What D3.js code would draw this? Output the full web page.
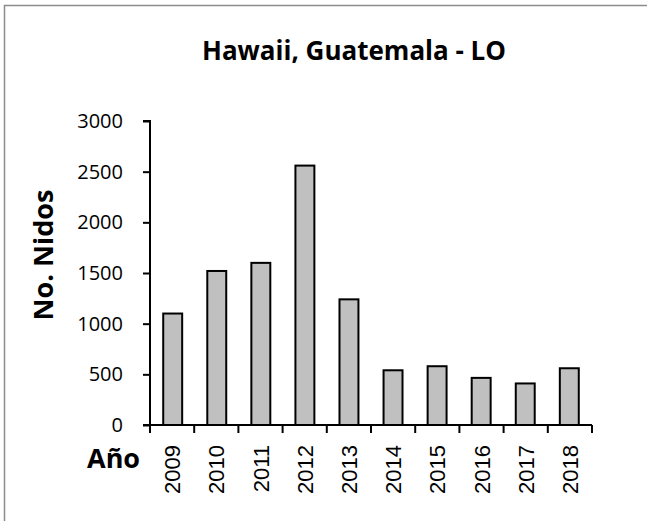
<!DOCTYPE html>
<html>
<head>
<meta charset="utf-8">
<script src="https://cdn.jsdelivr.net/npm/d3@7"></script>
<style>
  html, body { margin: 0; padding: 0; overflow: hidden; background: #fff; }
  svg { display: block; }
</style>
</head>
<body>
<div id="canvas"></div>
<script>
"use strict"

// data
let years = ["2009", "2010", "2011", "2012", "2013", "2014", "2015", "2016", "2017", "2018"];
let nests = [1100, 1520, 1600, 2560, 1240, 540, 580, 465, 410, 560];
let yTicks = [0, 500, 1000, 1500, 2000, 2500, 3000];

let titleText = "Hawaii, Guatemala - LO";
let yTitle = "No. Nidos";
let xTitle = "Año";

let width = 647;
let height = 521;

// plot box
let plotLeft = 150;
let plotRight = 592;
let plotTop = 121;
let plotBottom = 425;

let drawing = d3.select("#canvas")
    .append("svg")
    .attr("width", width)
    .attr("height", height);

drawing.append("rect")
    .attr("width", width)
    .attr("height", height)
    .attr("fill", "white");

// grey frame, only the left and top edges are in the picture
drawing.append("path")
    .attr("d", "M4.5," + height + "V5.5H" + width)
    .attr("fill", "none")
    .attr("stroke", "#8c8c8c")
    .attr("stroke-width", 1.5);

let x = d3.scaleBand()
    .domain(years)
    .range([plotLeft, plotRight])
    .paddingInner(0.57)
    .paddingOuter(0.3);

let xTick = d3.scaleBand()
    .domain(years)
    .range([plotLeft, plotRight]);

let y = d3.scaleLinear()
    .domain([0, 3000])
    .range([plotBottom, plotTop]);

// bars
drawing.selectAll(".bar")
    .data(nests)
    .enter()
    .append("rect")
    .attr("class", "bar")
    .attr("x", (d, i) => x(years[i]))
    .attr("y", d => y(d))
    .attr("width", x.bandwidth())
    .attr("height", d => y(0) - y(d))
    .attr("fill", "#c0c0c0")
    .attr("stroke", "black")
    .attr("stroke-width", 2);

// y axis
let yAxis = drawing.append("g")
    .attr("transform", "translate(" + plotLeft + ",0)")
    .call(d3.axisLeft(y).tickValues(yTicks).tickSize(7).tickPadding(20).tickFormat(d3.format("d")));

yAxis.select(".domain")
    .attr("stroke", "black")
    .attr("stroke-width", 2)
    .attr("d", "M-7," + plotTop + "H0V" + plotBottom);
yAxis.selectAll(".tick line").attr("stroke", "black").attr("stroke-width", 2);
yAxis.selectAll(".tick text")
    .attr("font-family", "'Open Sans', sans-serif")
    .attr("font-size", 20)
    .attr("fill", "black");

// x axis, ticks sit between the categories
let xAxis = drawing.append("g")
    .attr("transform", "translate(0," + plotBottom + ")");

xAxis.append("line")
    .attr("x1", plotLeft - 7)
    .attr("x2", plotRight)
    .attr("stroke", "black")
    .attr("stroke-width", 2);

xAxis.selectAll(".sep")
    .data(years.concat(["end"]))
    .enter()
    .append("line")
    .attr("class", "sep")
    .attr("x1", (d, i) => i < years.length ? xTick(d) : plotRight)
    .attr("x2", (d, i) => i < years.length ? xTick(d) : plotRight)
    .attr("y1", 0)
    .attr("y2", 8)
    .attr("stroke", "black")
    .attr("stroke-width", 2);

xAxis.selectAll(".lab")
    .data(years)
    .enter()
    .append("text")
    .attr("class", "lab")
    .attr("transform", d => "translate(" + (xTick(d) + xTick.bandwidth() / 2 + 8) + ",20) rotate(-90)")
    .attr("text-anchor", "end")
    .attr("font-family", "'Liberation Sans', Arial, sans-serif")
    .attr("font-size", 22)
    .attr("fill", "black")
    .text(d => d);

// titles
drawing.append("text")
    .attr("x", 354)
    .attr("y", 60)
    .attr("text-anchor", "middle")
    .attr("font-family", "'Open Sans', sans-serif")
    .attr("font-weight", "bold")
    .attr("font-size", 26)
    .attr("fill", "black")
    .text(titleText);

drawing.append("text")
    .attr("transform", "translate(53,255) rotate(-90)")
    .attr("text-anchor", "middle")
    .attr("font-family", "'Open Sans', sans-serif")
    .attr("font-weight", "bold")
    .attr("font-size", 27)
    .attr("fill", "black")
    .text(yTitle);

drawing.append("text")
    .attr("x", 87)
    .attr("y", 468)
    .attr("font-family", "'Open Sans', sans-serif")
    .attr("font-weight", "bold")
    .attr("font-size", 27)
    .attr("fill", "black")
    .text(xTitle);
</script>
</body>
</html>
